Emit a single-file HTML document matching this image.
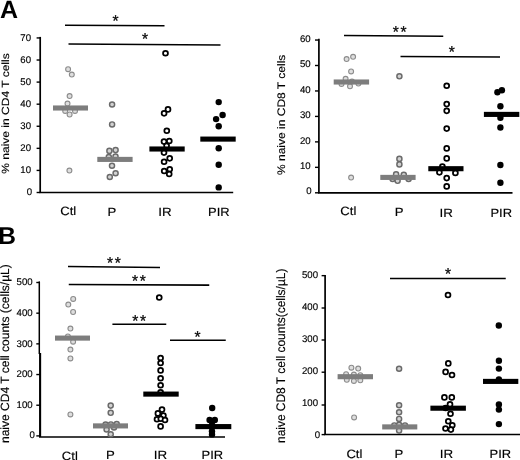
<!DOCTYPE html>
<html><head><meta charset="utf-8"><title>Figure</title>
<style>
html,body{margin:0;padding:0;background:#fff;}
body{width:520px;height:460px;overflow:hidden;}
svg{display:block;font-family:"Liberation Sans",sans-serif;fill:#000;text-rendering:geometricPrecision;filter:blur(0.35px);}
</style></head><body>
<svg width="520" height="460" viewBox="0 0 520 460">
<rect width="520" height="460" fill="#fff"/>
<text x="0.1" y="17.6" font-size="25" font-weight="bold">A</text>
<text x="-1.8" y="244.2" font-size="24.5" font-weight="bold">B</text>
<path d="M40.2 36.9V192.5" stroke="#000" stroke-width="1.7"/>
<path d="M39.35 192.5H233.2" stroke="#000" stroke-width="1.5"/>
<path d="M36.6 192.50H40.2" stroke="#000" stroke-width="1.4"/>
<text x="32.0" y="195.34" text-anchor="end" font-size="9.7" textLength="5.35" lengthAdjust="spacingAndGlyphs" stroke="#000" stroke-width="0.15">0</text>
<path d="M36.6 170.42H40.2" stroke="#000" stroke-width="1.4"/>
<text x="31.0" y="173.26" text-anchor="end" font-size="9.7" textLength="10.70" lengthAdjust="spacingAndGlyphs" stroke="#000" stroke-width="0.15">10</text>
<path d="M36.6 148.34H40.2" stroke="#000" stroke-width="1.4"/>
<text x="31.0" y="151.18" text-anchor="end" font-size="9.7" textLength="10.70" lengthAdjust="spacingAndGlyphs" stroke="#000" stroke-width="0.15">20</text>
<path d="M36.6 126.26H40.2" stroke="#000" stroke-width="1.4"/>
<text x="31.0" y="129.10" text-anchor="end" font-size="9.7" textLength="10.70" lengthAdjust="spacingAndGlyphs" stroke="#000" stroke-width="0.15">30</text>
<path d="M36.6 104.18H40.2" stroke="#000" stroke-width="1.4"/>
<text x="31.0" y="107.02" text-anchor="end" font-size="9.7" textLength="10.70" lengthAdjust="spacingAndGlyphs" stroke="#000" stroke-width="0.15">40</text>
<path d="M36.6 82.10H40.2" stroke="#000" stroke-width="1.4"/>
<text x="31.0" y="84.94" text-anchor="end" font-size="9.7" textLength="10.70" lengthAdjust="spacingAndGlyphs" stroke="#000" stroke-width="0.15">50</text>
<path d="M36.6 60.02H40.2" stroke="#000" stroke-width="1.4"/>
<text x="31.0" y="62.86" text-anchor="end" font-size="9.7" textLength="10.70" lengthAdjust="spacingAndGlyphs" stroke="#000" stroke-width="0.15">60</text>
<path d="M36.6 37.94H40.2" stroke="#000" stroke-width="1.4"/>
<text x="31.0" y="40.78" text-anchor="end" font-size="9.7" textLength="10.70" lengthAdjust="spacingAndGlyphs" stroke="#000" stroke-width="0.15">70</text>
<text transform="translate(9.3 173.7) rotate(-90)" font-size="10.4" textLength="120.4" lengthAdjust="spacingAndGlyphs" stroke="#000" stroke-width="0.15">% naive in CD4 T cells</text>
<path d="M65 25.2L164.5 25.7" stroke="#000" stroke-width="1.55"/>
<text x="115.5" y="26.1" text-anchor="middle" font-size="15.6" stroke="#111" stroke-width="0.3">*</text>
<path d="M68.5 44L220.5 45.1" stroke="#000" stroke-width="1.55"/>
<text x="145" y="43.85" text-anchor="middle" font-size="15.6" stroke="#111" stroke-width="0.3">*</text>
<circle cx="68.1" cy="69.2" r="2.45" fill="#dedede" stroke="#8c8c8c" stroke-width="1.1"/>
<circle cx="71.8" cy="74.6" r="2.45" fill="#dedede" stroke="#8c8c8c" stroke-width="1.1"/>
<circle cx="69.6" cy="96.1" r="2.45" fill="#dedede" stroke="#8c8c8c" stroke-width="1.1"/>
<circle cx="67.5" cy="103.6" r="2.45" fill="#dedede" stroke="#8c8c8c" stroke-width="1.1"/>
<circle cx="65.2" cy="110.9" r="2.45" fill="#dedede" stroke="#8c8c8c" stroke-width="1.1"/>
<circle cx="75" cy="110.9" r="2.45" fill="#dedede" stroke="#8c8c8c" stroke-width="1.1"/>
<circle cx="69.6" cy="114.5" r="2.45" fill="#dedede" stroke="#8c8c8c" stroke-width="1.1"/>
<circle cx="69.4" cy="170.6" r="2.45" fill="#dedede" stroke="#8c8c8c" stroke-width="1.1"/>
<rect x="53" y="105.45" width="35.00" height="5.1" fill="#7d7d7d"/>
<circle cx="112.1" cy="104.5" r="2.55" fill="#d2d2d2" stroke="#6a6a6a" stroke-width="1.45"/>
<circle cx="112.1" cy="124.4" r="2.55" fill="#d2d2d2" stroke="#6a6a6a" stroke-width="1.45"/>
<circle cx="109.4" cy="150.9" r="2.55" fill="#d2d2d2" stroke="#6a6a6a" stroke-width="1.45"/>
<circle cx="115.6" cy="150.1" r="2.55" fill="#d2d2d2" stroke="#6a6a6a" stroke-width="1.45"/>
<circle cx="108.8" cy="157" r="2.55" fill="#d2d2d2" stroke="#6a6a6a" stroke-width="1.45"/>
<circle cx="115.5" cy="156.6" r="2.55" fill="#d2d2d2" stroke="#6a6a6a" stroke-width="1.45"/>
<circle cx="112" cy="165.7" r="2.55" fill="#d2d2d2" stroke="#6a6a6a" stroke-width="1.45"/>
<circle cx="115.6" cy="173.2" r="2.55" fill="#d2d2d2" stroke="#6a6a6a" stroke-width="1.45"/>
<circle cx="109.8" cy="177" r="2.55" fill="#d2d2d2" stroke="#6a6a6a" stroke-width="1.45"/>
<rect x="97.3" y="156.85" width="35.30" height="5.1" fill="#7d7d7d"/>
<circle cx="165.5" cy="53.25" r="2.45" fill="#fff" stroke="#000" stroke-width="1.75"/>
<circle cx="168" cy="109.4" r="2.45" fill="#fff" stroke="#000" stroke-width="1.75"/>
<circle cx="164.1" cy="113.3" r="2.45" fill="#fff" stroke="#000" stroke-width="1.75"/>
<circle cx="166.8" cy="130.7" r="2.45" fill="#fff" stroke="#000" stroke-width="1.75"/>
<circle cx="164" cy="141.6" r="2.45" fill="#fff" stroke="#000" stroke-width="1.75"/>
<circle cx="169.3" cy="141" r="2.45" fill="#fff" stroke="#000" stroke-width="1.75"/>
<circle cx="166.6" cy="145.8" r="2.45" fill="#fff" stroke="#000" stroke-width="1.75"/>
<circle cx="164" cy="152.6" r="2.45" fill="#fff" stroke="#000" stroke-width="1.75"/>
<circle cx="169.7" cy="158.3" r="2.45" fill="#fff" stroke="#000" stroke-width="1.75"/>
<circle cx="164.1" cy="161.7" r="2.45" fill="#fff" stroke="#000" stroke-width="1.75"/>
<circle cx="164.2" cy="171" r="2.45" fill="#fff" stroke="#000" stroke-width="1.75"/>
<circle cx="169.7" cy="169.2" r="2.45" fill="#fff" stroke="#000" stroke-width="1.75"/>
<circle cx="169.2" cy="174" r="2.45" fill="#fff" stroke="#000" stroke-width="1.75"/>
<rect x="149.4" y="146.45" width="35.30" height="5.1" fill="#000"/>
<circle cx="218.7" cy="102.1" r="3.2" fill="#000"/>
<circle cx="222.6" cy="115" r="3.2" fill="#000"/>
<circle cx="216.1" cy="119.1" r="3.2" fill="#000"/>
<circle cx="218.7" cy="126.3" r="3.2" fill="#000"/>
<circle cx="218.7" cy="148.2" r="3.2" fill="#000"/>
<circle cx="218.7" cy="164.8" r="3.2" fill="#000"/>
<circle cx="218.7" cy="187.4" r="3.2" fill="#000"/>
<rect x="200.3" y="136.55" width="35.40" height="5.1" fill="#000"/>
<text x="68.2" y="215.3" text-anchor="middle" font-size="12" textLength="16.0" lengthAdjust="spacingAndGlyphs" stroke="#000" stroke-width="0.15">Ctl</text>
<text x="112" y="215.5" text-anchor="middle" font-size="12" textLength="8.8" lengthAdjust="spacingAndGlyphs" stroke="#000" stroke-width="0.15">P</text>
<text x="164.9" y="215.5" text-anchor="middle" font-size="12" textLength="13.4" lengthAdjust="spacingAndGlyphs" stroke="#000" stroke-width="0.15">IR</text>
<text x="218.9" y="215.5" text-anchor="middle" font-size="12" textLength="21.6" lengthAdjust="spacingAndGlyphs" stroke="#000" stroke-width="0.15">PIR</text>
<path d="M318.9 38.8V192.8" stroke="#000" stroke-width="1.7"/>
<path d="M318.04999999999995 192.9H512.5" stroke="#000" stroke-width="1.6"/>
<path d="M315 192.80H318.9" stroke="#000" stroke-width="1.4"/>
<text x="311.7" y="194.44" text-anchor="end" font-size="9.7" textLength="5.35" lengthAdjust="spacingAndGlyphs" stroke="#000" stroke-width="0.15">0</text>
<path d="M315 167.34H318.9" stroke="#000" stroke-width="1.4"/>
<text x="310.7" y="168.98" text-anchor="end" font-size="9.7" textLength="10.70" lengthAdjust="spacingAndGlyphs" stroke="#000" stroke-width="0.15">10</text>
<path d="M315 141.88H318.9" stroke="#000" stroke-width="1.4"/>
<text x="310.7" y="143.52" text-anchor="end" font-size="9.7" textLength="10.70" lengthAdjust="spacingAndGlyphs" stroke="#000" stroke-width="0.15">20</text>
<path d="M315 116.42H318.9" stroke="#000" stroke-width="1.4"/>
<text x="310.7" y="118.06" text-anchor="end" font-size="9.7" textLength="10.70" lengthAdjust="spacingAndGlyphs" stroke="#000" stroke-width="0.15">30</text>
<path d="M315 90.96H318.9" stroke="#000" stroke-width="1.4"/>
<text x="310.7" y="92.60" text-anchor="end" font-size="9.7" textLength="10.70" lengthAdjust="spacingAndGlyphs" stroke="#000" stroke-width="0.15">40</text>
<path d="M315 65.50H318.9" stroke="#000" stroke-width="1.4"/>
<text x="310.7" y="67.14" text-anchor="end" font-size="9.7" textLength="10.70" lengthAdjust="spacingAndGlyphs" stroke="#000" stroke-width="0.15">50</text>
<path d="M315 40.04H318.9" stroke="#000" stroke-width="1.4"/>
<text x="310.7" y="41.68" text-anchor="end" font-size="9.7" textLength="10.70" lengthAdjust="spacingAndGlyphs" stroke="#000" stroke-width="0.15">60</text>
<text transform="translate(284.5 175) rotate(-90)" font-size="10.9" textLength="120.3" lengthAdjust="spacingAndGlyphs" stroke="#000" stroke-width="0.15">% naive in CD8 T cells</text>
<path d="M344 35.5L443.25 36.3" stroke="#000" stroke-width="1.55"/>
<text x="400.45000000000005" y="37.4" text-anchor="middle" font-size="15.6" stroke="#111" stroke-width="0.3" letter-spacing="1.7">**</text>
<path d="M400.5 56.6L500 56.9" stroke="#000" stroke-width="1.55"/>
<text x="451.75" y="57.35" text-anchor="middle" font-size="15.6" stroke="#111" stroke-width="0.3">*</text>
<circle cx="346.6" cy="59.1" r="2.45" fill="#dedede" stroke="#8c8c8c" stroke-width="1.1"/>
<circle cx="353.1" cy="56.8" r="2.45" fill="#dedede" stroke="#8c8c8c" stroke-width="1.1"/>
<circle cx="351.1" cy="71.4" r="2.45" fill="#dedede" stroke="#8c8c8c" stroke-width="1.1"/>
<circle cx="345.6" cy="78.8" r="2.45" fill="#dedede" stroke="#8c8c8c" stroke-width="1.1"/>
<circle cx="352" cy="81.6" r="2.45" fill="#dedede" stroke="#8c8c8c" stroke-width="1.1"/>
<circle cx="341.5" cy="83.9" r="2.45" fill="#dedede" stroke="#8c8c8c" stroke-width="1.1"/>
<circle cx="350" cy="86.3" r="2.45" fill="#dedede" stroke="#8c8c8c" stroke-width="1.1"/>
<circle cx="358.4" cy="83.6" r="2.45" fill="#dedede" stroke="#8c8c8c" stroke-width="1.1"/>
<circle cx="351.1" cy="177.6" r="2.45" fill="#dedede" stroke="#8c8c8c" stroke-width="1.1"/>
<rect x="333.7" y="79.45" width="35.40" height="5.1" fill="#7d7d7d"/>
<circle cx="399.4" cy="76.3" r="2.55" fill="#d2d2d2" stroke="#6a6a6a" stroke-width="1.45"/>
<circle cx="399.4" cy="158.9" r="2.55" fill="#d2d2d2" stroke="#6a6a6a" stroke-width="1.45"/>
<circle cx="399.4" cy="164.4" r="2.55" fill="#d2d2d2" stroke="#6a6a6a" stroke-width="1.45"/>
<circle cx="396.1" cy="174.4" r="2.55" fill="#d2d2d2" stroke="#6a6a6a" stroke-width="1.45"/>
<circle cx="403.8" cy="174.8" r="2.55" fill="#d2d2d2" stroke="#6a6a6a" stroke-width="1.45"/>
<circle cx="392.6" cy="178.9" r="2.55" fill="#d2d2d2" stroke="#6a6a6a" stroke-width="1.45"/>
<circle cx="397.6" cy="180.8" r="2.55" fill="#d2d2d2" stroke="#6a6a6a" stroke-width="1.45"/>
<circle cx="408.6" cy="178.9" r="2.55" fill="#d2d2d2" stroke="#6a6a6a" stroke-width="1.45"/>
<rect x="380.3" y="174.85" width="35.30" height="5.1" fill="#7d7d7d"/>
<circle cx="446.7" cy="85.7" r="2.45" fill="#fff" stroke="#000" stroke-width="1.75"/>
<circle cx="446.7" cy="104.1" r="2.45" fill="#fff" stroke="#000" stroke-width="1.75"/>
<circle cx="446.7" cy="110.8" r="2.45" fill="#fff" stroke="#000" stroke-width="1.75"/>
<circle cx="446.7" cy="128.6" r="2.45" fill="#fff" stroke="#000" stroke-width="1.75"/>
<circle cx="446.7" cy="148.4" r="2.45" fill="#fff" stroke="#000" stroke-width="1.75"/>
<circle cx="446.7" cy="158.4" r="2.45" fill="#fff" stroke="#000" stroke-width="1.75"/>
<circle cx="442.4" cy="166.5" r="2.45" fill="#fff" stroke="#000" stroke-width="1.75"/>
<circle cx="439.4" cy="172.3" r="2.45" fill="#fff" stroke="#000" stroke-width="1.75"/>
<circle cx="455.4" cy="172.9" r="2.45" fill="#fff" stroke="#000" stroke-width="1.75"/>
<circle cx="446.7" cy="178.1" r="2.45" fill="#fff" stroke="#000" stroke-width="1.75"/>
<circle cx="446.7" cy="186.4" r="2.45" fill="#fff" stroke="#000" stroke-width="1.75"/>
<rect x="428.3" y="166.15" width="35.20" height="5.1" fill="#000"/>
<circle cx="501.9" cy="90.2" r="3.2" fill="#000"/>
<circle cx="497.4" cy="92.2" r="3.2" fill="#000"/>
<circle cx="500.4" cy="106.2" r="3.2" fill="#000"/>
<circle cx="500.4" cy="117.8" r="3.2" fill="#000"/>
<circle cx="500.4" cy="127.5" r="3.2" fill="#000"/>
<circle cx="500.4" cy="165" r="3.2" fill="#000"/>
<circle cx="500.4" cy="182.8" r="3.2" fill="#000"/>
<rect x="483.9" y="111.85" width="35.40" height="5.1" fill="#000"/>
<text x="348.3" y="214.9" text-anchor="middle" font-size="12" textLength="16.0" lengthAdjust="spacingAndGlyphs" stroke="#000" stroke-width="0.15">Ctl</text>
<text x="399.2" y="215.8" text-anchor="middle" font-size="12" textLength="8.8" lengthAdjust="spacingAndGlyphs" stroke="#000" stroke-width="0.15">P</text>
<text x="446.3" y="216.8" text-anchor="middle" font-size="12" textLength="13.4" lengthAdjust="spacingAndGlyphs" stroke="#000" stroke-width="0.15">IR</text>
<text x="501.2" y="216.8" text-anchor="middle" font-size="12" textLength="21.6" lengthAdjust="spacingAndGlyphs" stroke="#000" stroke-width="0.15">PIR</text>
<path d="M39.3 281.4V354" stroke="#000" stroke-width="1.5"/>
<path d="M40.1 353V437" stroke="#000" stroke-width="2.1"/>
<path d="M39 437H225" stroke="#000" stroke-width="1.6"/>
<path d="M36.3 435.90H40" stroke="#000" stroke-width="1.4"/>
<text x="34.9" y="437.84" text-anchor="end" font-size="9.7" textLength="5.35" lengthAdjust="spacingAndGlyphs" stroke="#000" stroke-width="0.15">0</text>
<path d="M36.3 405.22H40" stroke="#000" stroke-width="1.4"/>
<text x="32.6" y="407.96" text-anchor="end" font-size="9.7" textLength="16.05" lengthAdjust="spacingAndGlyphs" stroke="#000" stroke-width="0.15">100</text>
<path d="M36.3 374.54H40" stroke="#000" stroke-width="1.4"/>
<text x="32.6" y="377.28" text-anchor="end" font-size="9.7" textLength="16.05" lengthAdjust="spacingAndGlyphs" stroke="#000" stroke-width="0.15">200</text>
<path d="M36.3 343.86H40" stroke="#000" stroke-width="1.4"/>
<text x="32.6" y="346.60" text-anchor="end" font-size="9.7" textLength="16.05" lengthAdjust="spacingAndGlyphs" stroke="#000" stroke-width="0.15">300</text>
<path d="M36.3 313.18H40" stroke="#000" stroke-width="1.4"/>
<text x="32.6" y="315.92" text-anchor="end" font-size="9.7" textLength="16.05" lengthAdjust="spacingAndGlyphs" stroke="#000" stroke-width="0.15">400</text>
<path d="M36.3 282.50H40" stroke="#000" stroke-width="1.4"/>
<text x="32.6" y="285.24" text-anchor="end" font-size="9.7" textLength="16.05" lengthAdjust="spacingAndGlyphs" stroke="#000" stroke-width="0.15">500</text>
<text transform="translate(9.0 443) rotate(-90)" font-size="12" textLength="178.8" lengthAdjust="spacingAndGlyphs" stroke="#000" stroke-width="0.15">naive CD4 T cell counts (cells/µL)</text>
<path d="M68 266.6L160 267.6" stroke="#000" stroke-width="1.55"/>
<text x="114.85" y="267.6" text-anchor="middle" font-size="15.6" stroke="#111" stroke-width="0.3" letter-spacing="1.7">**</text>
<path d="M68.75 284.5L209.25 285.1" stroke="#000" stroke-width="1.55"/>
<text x="139.75" y="285.8" text-anchor="middle" font-size="15.6" stroke="#111" stroke-width="0.3" letter-spacing="1.7">**</text>
<path d="M112.4 324.3L166.25 324.3" stroke="#000" stroke-width="1.55"/>
<text x="140.04999999999998" y="326.1" text-anchor="middle" font-size="15.6" stroke="#111" stroke-width="0.3" letter-spacing="1.7">**</text>
<path d="M170 340.3L225.75 340.3" stroke="#000" stroke-width="1.55"/>
<text x="197.5" y="341.85" text-anchor="middle" font-size="15.6" stroke="#111" stroke-width="0.3">*</text>
<circle cx="73.2" cy="298.9" r="2.45" fill="#dedede" stroke="#8c8c8c" stroke-width="1.1"/>
<circle cx="68.3" cy="304.6" r="2.45" fill="#dedede" stroke="#8c8c8c" stroke-width="1.1"/>
<circle cx="73.1" cy="312" r="2.45" fill="#dedede" stroke="#8c8c8c" stroke-width="1.1"/>
<circle cx="70.4" cy="328.6" r="2.45" fill="#dedede" stroke="#8c8c8c" stroke-width="1.1"/>
<circle cx="67.9" cy="336.5" r="2.45" fill="#dedede" stroke="#8c8c8c" stroke-width="1.1"/>
<circle cx="73.1" cy="341.7" r="2.45" fill="#dedede" stroke="#8c8c8c" stroke-width="1.1"/>
<circle cx="70.4" cy="349.6" r="2.45" fill="#dedede" stroke="#8c8c8c" stroke-width="1.1"/>
<circle cx="70.4" cy="358.4" r="2.45" fill="#dedede" stroke="#8c8c8c" stroke-width="1.1"/>
<circle cx="70.4" cy="414.4" r="2.45" fill="#dedede" stroke="#8c8c8c" stroke-width="1.1"/>
<rect x="55" y="335.55" width="35.00" height="5.1" fill="#7d7d7d"/>
<circle cx="110.7" cy="405.6" r="2.55" fill="#d2d2d2" stroke="#6a6a6a" stroke-width="1.45"/>
<circle cx="110.7" cy="412.8" r="2.55" fill="#d2d2d2" stroke="#6a6a6a" stroke-width="1.45"/>
<circle cx="105.6" cy="424.5" r="2.55" fill="#d2d2d2" stroke="#6a6a6a" stroke-width="1.45"/>
<circle cx="110.9" cy="424.4" r="2.55" fill="#d2d2d2" stroke="#6a6a6a" stroke-width="1.45"/>
<circle cx="116.7" cy="424" r="2.55" fill="#d2d2d2" stroke="#6a6a6a" stroke-width="1.45"/>
<circle cx="114" cy="427.5" r="2.55" fill="#d2d2d2" stroke="#6a6a6a" stroke-width="1.45"/>
<circle cx="106.6" cy="429.5" r="2.55" fill="#d2d2d2" stroke="#6a6a6a" stroke-width="1.45"/>
<circle cx="110.7" cy="434.2" r="2.55" fill="#d2d2d2" stroke="#6a6a6a" stroke-width="1.45"/>
<rect x="93" y="423.35" width="35.00" height="5.1" fill="#7d7d7d"/>
<circle cx="159.25" cy="297.5" r="2.45" fill="#fff" stroke="#000" stroke-width="1.75"/>
<circle cx="160.6" cy="358" r="2.45" fill="#fff" stroke="#000" stroke-width="1.75"/>
<circle cx="160.6" cy="363" r="2.45" fill="#fff" stroke="#000" stroke-width="1.75"/>
<circle cx="160.6" cy="370.4" r="2.45" fill="#fff" stroke="#000" stroke-width="1.75"/>
<circle cx="160.6" cy="378.3" r="2.45" fill="#fff" stroke="#000" stroke-width="1.75"/>
<circle cx="160.6" cy="385.3" r="2.45" fill="#fff" stroke="#000" stroke-width="1.75"/>
<circle cx="160.6" cy="392.3" r="2.45" fill="#fff" stroke="#000" stroke-width="1.75"/>
<circle cx="162" cy="409.6" r="2.45" fill="#fff" stroke="#000" stroke-width="1.75"/>
<circle cx="157.9" cy="413.4" r="2.45" fill="#fff" stroke="#000" stroke-width="1.75"/>
<circle cx="163.4" cy="415.6" r="2.45" fill="#fff" stroke="#000" stroke-width="1.75"/>
<circle cx="157" cy="419.3" r="2.45" fill="#fff" stroke="#000" stroke-width="1.75"/>
<circle cx="160.8" cy="418.8" r="2.45" fill="#fff" stroke="#000" stroke-width="1.75"/>
<circle cx="165" cy="420" r="2.45" fill="#fff" stroke="#000" stroke-width="1.75"/>
<circle cx="160.6" cy="426.4" r="2.45" fill="#fff" stroke="#000" stroke-width="1.75"/>
<rect x="143.3" y="391.55" width="35.40" height="5.1" fill="#000"/>
<circle cx="212.2" cy="408" r="3.2" fill="#000"/>
<circle cx="209.6" cy="420" r="3.2" fill="#000"/>
<circle cx="214.8" cy="420" r="3.2" fill="#000"/>
<circle cx="212" cy="425" r="3.2" fill="#000"/>
<circle cx="212" cy="431.2" r="3.2" fill="#000"/>
<circle cx="212" cy="434.4" r="3.2" fill="#000"/>
<rect x="195.4" y="424.05" width="35.90" height="5.1" fill="#000"/>
<text x="69.8" y="460.1" text-anchor="middle" font-size="12" textLength="16.0" lengthAdjust="spacingAndGlyphs" stroke="#000" stroke-width="0.15">Ctl</text>
<text x="110.5" y="458.6" text-anchor="middle" font-size="12" textLength="8.8" lengthAdjust="spacingAndGlyphs" stroke="#000" stroke-width="0.15">P</text>
<text x="160.5" y="458.6" text-anchor="middle" font-size="12" textLength="13.4" lengthAdjust="spacingAndGlyphs" stroke="#000" stroke-width="0.15">IR</text>
<text x="212.4" y="458.6" text-anchor="middle" font-size="12" textLength="21.6" lengthAdjust="spacingAndGlyphs" stroke="#000" stroke-width="0.15">PIR</text>
<path d="M325.1 275V434.4" stroke="#000" stroke-width="1.7"/>
<path d="M324.25 434.4H520" stroke="#000" stroke-width="1.5"/>
<path d="M321.6 434.60H325.1" stroke="#000" stroke-width="1.4"/>
<text x="320" y="438.34" text-anchor="end" font-size="9.7" textLength="5.35" lengthAdjust="spacingAndGlyphs" stroke="#000" stroke-width="0.15">0</text>
<path d="M321.6 405.00H325.1" stroke="#000" stroke-width="1.4"/>
<text x="318" y="406.20" text-anchor="end" font-size="9.7" textLength="16.05" lengthAdjust="spacingAndGlyphs" stroke="#000" stroke-width="0.15">100</text>
<path d="M321.6 372.20H325.1" stroke="#000" stroke-width="1.4"/>
<text x="318" y="374.06" text-anchor="end" font-size="9.7" textLength="16.05" lengthAdjust="spacingAndGlyphs" stroke="#000" stroke-width="0.15">200</text>
<path d="M321.6 340.00H325.1" stroke="#000" stroke-width="1.4"/>
<text x="318" y="341.92" text-anchor="end" font-size="9.7" textLength="16.05" lengthAdjust="spacingAndGlyphs" stroke="#000" stroke-width="0.15">300</text>
<path d="M321.6 308.00H325.1" stroke="#000" stroke-width="1.4"/>
<text x="318" y="309.78" text-anchor="end" font-size="9.7" textLength="16.05" lengthAdjust="spacingAndGlyphs" stroke="#000" stroke-width="0.15">400</text>
<path d="M321.6 275.65H325.1" stroke="#000" stroke-width="1.4"/>
<text x="318" y="277.64" text-anchor="end" font-size="9.7" textLength="16.05" lengthAdjust="spacingAndGlyphs" stroke="#000" stroke-width="0.15">500</text>
<text transform="translate(284.8 443) rotate(-90)" font-size="12.4" textLength="174.4" lengthAdjust="spacingAndGlyphs" stroke="#000" stroke-width="0.15">naive CD8 T cell counts(cells/µL)</text>
<path d="M390 278.5L505.75 278.5" stroke="#000" stroke-width="1.55"/>
<text x="448" y="278.6" text-anchor="middle" font-size="15.6" stroke="#111" stroke-width="0.3">*</text>
<circle cx="351.4" cy="367.7" r="2.45" fill="#dedede" stroke="#8c8c8c" stroke-width="1.1"/>
<circle cx="358.2" cy="368.6" r="2.45" fill="#dedede" stroke="#8c8c8c" stroke-width="1.1"/>
<circle cx="346.1" cy="374.2" r="2.45" fill="#dedede" stroke="#8c8c8c" stroke-width="1.1"/>
<circle cx="353.9" cy="374.6" r="2.45" fill="#dedede" stroke="#8c8c8c" stroke-width="1.1"/>
<circle cx="360.3" cy="375.2" r="2.45" fill="#dedede" stroke="#8c8c8c" stroke-width="1.1"/>
<circle cx="346.8" cy="379.8" r="2.45" fill="#dedede" stroke="#8c8c8c" stroke-width="1.1"/>
<circle cx="353.9" cy="380.9" r="2.45" fill="#dedede" stroke="#8c8c8c" stroke-width="1.1"/>
<circle cx="360.3" cy="380.3" r="2.45" fill="#dedede" stroke="#8c8c8c" stroke-width="1.1"/>
<circle cx="354.1" cy="417.4" r="2.45" fill="#dedede" stroke="#8c8c8c" stroke-width="1.1"/>
<rect x="337.6" y="374.15" width="35.40" height="5.1" fill="#7d7d7d"/>
<circle cx="399.1" cy="368.7" r="2.55" fill="#d2d2d2" stroke="#6a6a6a" stroke-width="1.45"/>
<circle cx="399.1" cy="405.2" r="2.55" fill="#d2d2d2" stroke="#6a6a6a" stroke-width="1.45"/>
<circle cx="399.1" cy="412.2" r="2.55" fill="#d2d2d2" stroke="#6a6a6a" stroke-width="1.45"/>
<circle cx="399.1" cy="418.9" r="2.55" fill="#d2d2d2" stroke="#6a6a6a" stroke-width="1.45"/>
<circle cx="394.3" cy="425.4" r="2.55" fill="#d2d2d2" stroke="#6a6a6a" stroke-width="1.45"/>
<circle cx="399.1" cy="424.8" r="2.55" fill="#d2d2d2" stroke="#6a6a6a" stroke-width="1.45"/>
<circle cx="405" cy="425.4" r="2.55" fill="#d2d2d2" stroke="#6a6a6a" stroke-width="1.45"/>
<circle cx="399.1" cy="430.6" r="2.55" fill="#d2d2d2" stroke="#6a6a6a" stroke-width="1.45"/>
<rect x="382.2" y="424.35" width="35.10" height="5.1" fill="#7d7d7d"/>
<circle cx="448" cy="295" r="2.45" fill="#fff" stroke="#000" stroke-width="1.75"/>
<circle cx="448.3" cy="363.4" r="2.45" fill="#fff" stroke="#000" stroke-width="1.75"/>
<circle cx="445.6" cy="371.9" r="2.45" fill="#fff" stroke="#000" stroke-width="1.75"/>
<circle cx="452" cy="375" r="2.45" fill="#fff" stroke="#000" stroke-width="1.75"/>
<circle cx="444.4" cy="397.4" r="2.45" fill="#fff" stroke="#000" stroke-width="1.75"/>
<circle cx="451.8" cy="397.4" r="2.45" fill="#fff" stroke="#000" stroke-width="1.75"/>
<circle cx="450" cy="404.4" r="2.45" fill="#fff" stroke="#000" stroke-width="1.75"/>
<circle cx="445.6" cy="408" r="2.45" fill="#fff" stroke="#000" stroke-width="1.75"/>
<circle cx="450.5" cy="413.7" r="2.45" fill="#fff" stroke="#000" stroke-width="1.75"/>
<circle cx="448.3" cy="421.3" r="2.45" fill="#fff" stroke="#000" stroke-width="1.75"/>
<circle cx="452.3" cy="425.2" r="2.45" fill="#fff" stroke="#000" stroke-width="1.75"/>
<circle cx="445.5" cy="428.5" r="2.45" fill="#fff" stroke="#000" stroke-width="1.75"/>
<circle cx="450.9" cy="429.6" r="2.45" fill="#fff" stroke="#000" stroke-width="1.75"/>
<rect x="430.4" y="405.65" width="35.50" height="5.1" fill="#000"/>
<circle cx="498.8" cy="325.5" r="3.2" fill="#000"/>
<circle cx="498.9" cy="360.8" r="3.2" fill="#000"/>
<circle cx="498.9" cy="368.6" r="3.2" fill="#000"/>
<circle cx="498.9" cy="379.5" r="3.2" fill="#000"/>
<circle cx="498.9" cy="404.4" r="3.2" fill="#000"/>
<circle cx="498.9" cy="409.6" r="3.2" fill="#000"/>
<circle cx="498.9" cy="424.1" r="3.2" fill="#000"/>
<rect x="483" y="378.85" width="35.30" height="5.1" fill="#000"/>
<text x="354.4" y="458.2" text-anchor="middle" font-size="12" textLength="16.0" lengthAdjust="spacingAndGlyphs" stroke="#000" stroke-width="0.15">Ctl</text>
<text x="399" y="458.2" text-anchor="middle" font-size="12" textLength="8.8" lengthAdjust="spacingAndGlyphs" stroke="#000" stroke-width="0.15">P</text>
<text x="446.5" y="458.2" text-anchor="middle" font-size="12" textLength="13.4" lengthAdjust="spacingAndGlyphs" stroke="#000" stroke-width="0.15">IR</text>
<text x="500.3" y="458.2" text-anchor="middle" font-size="12" textLength="21.6" lengthAdjust="spacingAndGlyphs" stroke="#000" stroke-width="0.15">PIR</text>
</svg>
</body></html>
